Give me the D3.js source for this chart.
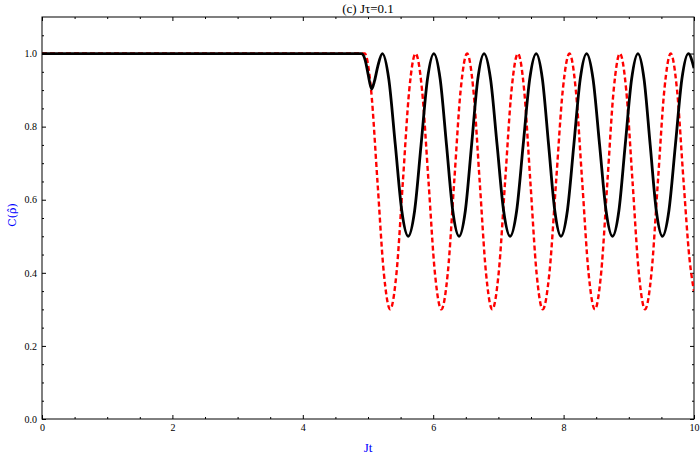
<!DOCTYPE html>
<html><head><meta charset="utf-8">
<script src="https://cdn.jsdelivr.net/npm/d3@7"></script>
<style>
body{margin:0;background:#fff;}
svg text{font-family:"Liberation Serif","DejaVu Serif",serif;}
</style></head>
<body><svg id="c" width="700" height="457"></svg>
<script>
// ---- data ----
const title = "(c) J\u03c4=0.1";
const xLabel = "Jt";
const yLabel = "C(\u03c1\u0302)";
const xMajor = [0, 2, 4, 6, 8, 10];
const xMinor = [0.5, 1, 1.5, 2.5, 3, 3.5, 4.5, 5, 5.5, 6.5, 7, 7.5, 8.5, 9, 9.5];
const yMajor = [0, 0.2, 0.4, 0.6, 0.8, 1.0];
const yMinor = [0.05,0.1,0.15,0.25,0.3,0.35,0.45,0.5,0.55,0.65,0.7,0.75,0.85,0.9,0.95,1.05];

// black solid curve
const blackT = [0, 4.90, 4.96, 5.00, 5.056, 5.10, 5.15, 5.22,
  5.319, 5.419, 5.518, 5.617, 5.715, 5.814, 5.912, 6.01,
  6.107, 6.204, 6.30, 6.397, 6.493, 6.589, 6.684, 6.78,
  6.88, 6.98, 7.08, 7.18, 7.28, 7.38, 7.48, 7.58,
  7.675, 7.77, 7.865, 7.96, 8.058, 8.157, 8.255, 8.353,
  8.452, 8.552, 8.651, 8.75, 8.848, 8.945, 9.043, 9.14,
  9.234, 9.328, 9.422, 9.516, 9.615, 9.715, 9.814, 9.913, 10.0];
const blackC = [1, 1, 0.98, 0.945, 0.903, 0.925, 0.965, 1.0,
  0.93, 0.75, 0.57, 0.5, 0.57, 0.75, 0.93, 1.0,
  0.93, 0.75, 0.57, 0.5, 0.57, 0.75, 0.93, 1.0,
  0.93, 0.75, 0.57, 0.5, 0.57, 0.75, 0.93, 1.0,
  0.93, 0.75, 0.57, 0.5, 0.57, 0.75, 0.93, 1.0,
  0.93, 0.75, 0.57, 0.5, 0.57, 0.75, 0.93, 1.0,
  0.93, 0.75, 0.57, 0.5, 0.57, 0.75, 0.93, 1.0, 0.96];

// red dashed curve
const redT = [0, 4.95, 5.0475, 5.145, 5.2425, 5.34,
  5.4375, 5.535, 5.6325, 5.73, 5.829, 5.928, 6.026, 6.125,
  6.224, 6.3225, 6.421, 6.52, 6.6165, 6.713, 6.8095, 6.906,
  7.0045, 7.103, 7.2015, 7.30, 7.395, 7.49, 7.585, 7.68,
  7.7825, 7.885, 7.9875, 8.09, 8.1875, 8.285, 8.3825, 8.48,
  8.576, 8.672, 8.768, 8.864, 8.9605, 9.057, 9.1535, 9.25,
  9.348, 9.4465, 9.545, 9.643, 9.74, 9.84, 9.93, 10.0];
const redC = [1, 1, 0.90, 0.65, 0.40, 0.30,
  0.40, 0.65, 0.90, 1.0, 0.90, 0.65, 0.40, 0.30,
  0.40, 0.65, 0.90, 1.0, 0.90, 0.65, 0.40, 0.30,
  0.40, 0.65, 0.90, 1.0, 0.90, 0.65, 0.40, 0.30,
  0.40, 0.65, 0.90, 1.0, 0.90, 0.65, 0.40, 0.30,
  0.40, 0.65, 0.90, 1.0, 0.90, 0.65, 0.40, 0.30,
  0.40, 0.65, 0.90, 1.0, 0.90, 0.65, 0.44, 0.35];

// ---- drawing ----
const L = 42, R = 694, T = 17, B = 419;
const svg = d3.select("#c");
const x = d3.scaleLinear().domain([0, 10]).range([L, R]);
const y = d3.scaleLinear().domain([0, 1.1]).range([B, T]);

svg.append("defs").append("clipPath").attr("id", "clip")
  .append("rect").attr("x", L).attr("y", T).attr("width", R - L).attr("height", B - T);

function styleAxis(g) {
  g.select(".domain").remove();
  g.selectAll("line").attr("stroke", "#000").attr("stroke-width", 1);
  g.selectAll("text").attr("font-size", 10).attr("fill", "#000")
    .style("font-family", '"Liberation Serif","DejaVu Serif",serif');
}
// bottom
svg.append("g").attr("transform", `translate(0,${B})`)
  .call(d3.axisBottom(x).tickValues(xMajor).tickSize(-4).tickPadding(5).tickFormat(d3.format("d"))).call(styleAxis);
svg.append("g").attr("transform", `translate(0,${B})`)
  .call(d3.axisBottom(x).tickValues(xMinor).tickSize(-2).tickFormat("")).call(styleAxis);
// top
svg.append("g").attr("transform", `translate(0,${T})`)
  .call(d3.axisTop(x).tickValues(xMajor).tickSize(-4).tickFormat("")).call(styleAxis);
svg.append("g").attr("transform", `translate(0,${T})`)
  .call(d3.axisTop(x).tickValues(xMinor).tickSize(-2).tickFormat("")).call(styleAxis);
// left
svg.append("g").attr("transform", `translate(${L},0)`)
  .call(d3.axisLeft(y).tickValues(yMajor).tickSize(-4).tickPadding(5).tickFormat(d3.format(".1f"))).call(styleAxis);
svg.append("g").attr("transform", `translate(${L},0)`)
  .call(d3.axisLeft(y).tickValues(yMinor).tickSize(-2).tickFormat("")).call(styleAxis);
// right
svg.append("g").attr("transform", `translate(${R},0)`)
  .call(d3.axisRight(y).tickValues(yMajor).tickSize(-4).tickFormat("")).call(styleAxis);
svg.append("g").attr("transform", `translate(${R},0)`)
  .call(d3.axisRight(y).tickValues(yMinor).tickSize(-2).tickFormat("")).call(styleAxis);

// frame
svg.append("rect").attr("x", L).attr("y", T).attr("width", R - L).attr("height", B - T)
  .attr("fill", "none").attr("stroke", "#000").attr("stroke-width", 1);

const line = d3.line().x(d => x(d[0])).y(d => y(d[1])).curve(d3.curveMonotoneX);
const redData = redT.map((t, i) => [t, redC[i]]);
const blackData = blackT.map((t, i) => [t, blackC[i]]);

const plot = svg.append("g").attr("clip-path", "url(#clip)");
plot.append("path").datum(redData).attr("d", line)
  .attr("fill", "none").attr("stroke", "#ff0000").attr("stroke-width", 2.4)
  .attr("stroke-dasharray", "5,3");
plot.append("path").datum(blackData).attr("d", line)
  .attr("fill", "none").attr("stroke", "#000").attr("stroke-width", 2.8);

// texts
svg.append("text").attr("x", (L + R) / 2).attr("y", 13).attr("text-anchor", "middle")
  .attr("font-size", 13).attr("fill", "#000").text(title);
svg.append("text").attr("x", (L + R) / 2).attr("y", 452).attr("text-anchor", "middle")
  .attr("font-size", 13).attr("fill", "#0000ff").text(xLabel);
svg.append("text").attr("transform", "translate(16,215) rotate(-90)").attr("text-anchor", "middle")
  .attr("font-size", 11).attr("fill", "#0000ff")
  .style("font-family", '"DejaVu Serif",serif').text(yLabel);
</script></body></html>
